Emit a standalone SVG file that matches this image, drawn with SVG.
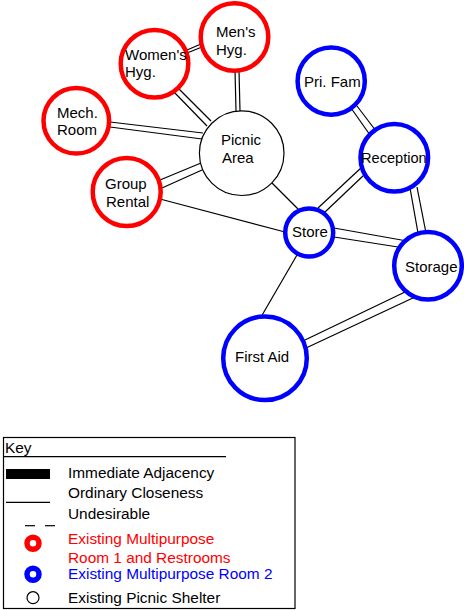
<svg xmlns="http://www.w3.org/2000/svg" width="464" height="610" viewBox="0 0 464 610">
<style>
.c line{stroke:#000;stroke-width:1.2;fill:none}
.red{fill:#fff;stroke:#f00;stroke-width:4.5}
.blue{fill:#fff;stroke:#00f;stroke-width:4.5}
.blk{fill:#fff;stroke:#000;stroke-width:1.2}
text{font-family:"Liberation Sans",Arial,sans-serif;font-size:15px;fill:#000}
.k text{font-size:15.4px}
</style>
<rect width="464" height="610" fill="#fff"/>
<g id="connectors" class="c">
<!-- Women's - Men's -->
<line x1="187" y1="50" x2="201" y2="44"/><line x1="187" y1="53" x2="202" y2="47"/>
<!-- Men's - Picnic -->
<line x1="235" y1="70" x2="236" y2="111"/><line x1="239" y1="70" x2="240" y2="111"/>
<!-- Women's - Picnic -->
<line x1="173" y1="91" x2="207" y2="126"/><line x1="178" y1="88" x2="211" y2="121"/>
<!-- Mech - Picnic -->
<line x1="110" y1="122" x2="203" y2="133"/><line x1="110" y1="127" x2="202" y2="139"/>
<!-- Group - Picnic -->
<line x1="160" y1="180" x2="201" y2="163"/><line x1="162" y1="188" x2="202" y2="170"/>
<!-- Picnic - Store -->
<line x1="272" y1="183" x2="299" y2="210"/>
<!-- Group - Store -->
<line x1="160" y1="199" x2="285" y2="232"/>
<!-- Store - First Aid -->
<line x1="297" y1="255" x2="261" y2="317"/>
<!-- Pri Fam - Reception -->
<line x1="351" y1="108" x2="370" y2="135"/><line x1="357" y1="106" x2="376" y2="131"/>
<!-- Reception - Store -->
<line x1="318" y1="208" x2="362" y2="167"/><line x1="325" y1="212" x2="364" y2="175"/>
<!-- Reception - Storage -->
<line x1="410" y1="188" x2="418" y2="233"/><line x1="417" y1="187" x2="426" y2="233"/>
<!-- Store - Storage -->
<line x1="334" y1="228" x2="407" y2="241"/><line x1="334" y1="237" x2="398" y2="247"/>
<!-- Storage - First Aid -->
<line x1="305" y1="340" x2="405" y2="292"/><line x1="306" y1="348" x2="415" y2="297"/>
</g>
<g id="mens"><circle class="red" cx="234.5" cy="37" r="33.8"/><text x="216" y="37">Men's</text><text x="216" y="55">Hyg.</text></g>
<g id="womens"><circle class="red" cx="154.5" cy="63.7" r="33.8"/><text x="125" y="60">Women's</text><text x="125" y="77">Hyg.</text></g>
<g id="mech"><circle class="red" cx="76.3" cy="120.8" r="32.8"/><text x="57" y="118">Mech.</text><text x="57" y="135">Room</text></g>
<g id="group"><circle class="red" cx="126.7" cy="192" r="34"/><text x="105" y="189">Group</text><text x="106" y="207">Rental</text></g>
<g id="picnic"><circle class="blk" cx="241.7" cy="153.2" r="42.3"/><text x="221" y="145">Picnic</text><text x="222" y="163">Area</text></g>
<g id="prifam"><circle class="blue" cx="331.2" cy="81.2" r="33.6"/><text x="304" y="87">Pri. Fam</text></g>
<g id="reception"><circle class="blue" cx="394.3" cy="157.8" r="33.8"/><text x="361" y="163" style="font-size:14.6px">Reception</text></g>
<g id="store"><circle class="blue" cx="309.2" cy="232.5" r="24"/><text x="292" y="237">Store</text></g>
<g id="storage"><circle class="blue" cx="428" cy="265.8" r="33.8"/><text x="405" y="272">Storage</text></g>
<g id="firstaid"><circle class="blue" cx="265" cy="358.3" r="41.8"/><text x="235" y="362">First Aid</text></g>
<g id="key" class="k">
<rect x="3.5" y="437.5" width="291.5" height="171" fill="none" stroke="#000" stroke-width="1.2"/>
<text x="5" y="453">Key</text>
<line x1="3" y1="456.7" x2="226" y2="456.7" stroke="#000" stroke-width="1.2"/>
<rect x="6" y="469" width="44" height="10" fill="#000"/>
<text x="68" y="478.3">Immediate Adjacency</text>
<line x1="6" y1="502.3" x2="50" y2="502.3" stroke="#000" stroke-width="1.2"/>
<text x="68" y="498.3">Ordinary Closeness</text>
<line x1="25" y1="525.7" x2="35" y2="525.7" stroke="#000" stroke-width="1.2"/>
<line x1="45" y1="525.7" x2="55" y2="525.7" stroke="#000" stroke-width="1.2"/>
<text x="68" y="519.3">Undesirable</text>
<circle cx="33" cy="543.3" r="6" fill="#fff" stroke="#f00" stroke-width="5.5"/>
<text x="68" y="544.3" style="fill:#f00">Existing Multipurpose</text>
<text x="68" y="562.7" style="fill:#f00">Room 1 and Restrooms</text>
<circle cx="33" cy="574.3" r="6" fill="#fff" stroke="#00f" stroke-width="5.5"/>
<text x="68" y="579.3" style="fill:#00f">Existing Multipurpose Room 2</text>
<circle cx="33" cy="597.7" r="6" fill="#fff" stroke="#000" stroke-width="1.2"/>
<text x="68" y="602.7">Existing Picnic Shelter</text>
</g>
</svg>
